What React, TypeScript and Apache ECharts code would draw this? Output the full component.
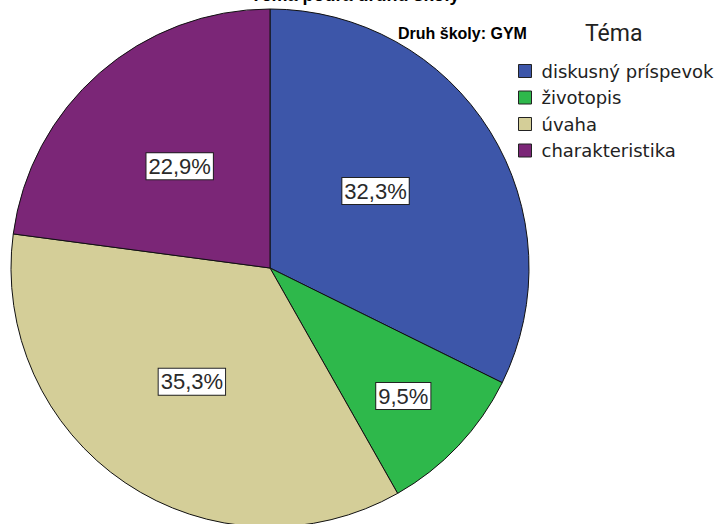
import React, { useEffect, useRef } from "react";
import * as echarts from "echarts";

const categories = ["diskusný príspevok", "životopis", "úvaha", "charakteristika"];
const percentages = [32.3, 9.5, 35.3, 22.9];
const colors = ["#3d56a9", "#2eb84b", "#d4ce98", "#7b2677"];
const labelShift = [
  [-7, -7],
  [37, 37],
  [-4, 4],
  [-3, -2],
];
const titleText = "Téma podľa druhu školy";
const subTitleText = "Druh školy: GYM";
const legendTitle = "Téma";

export default function App() {
  const ref = useRef<HTMLDivElement>(null);
  useEffect(() => {
    document.body.style.margin = "0";
    const chart = echarts.init(ref.current!, null, { renderer: "svg" });
    chart.setOption({
      animation: false,
      backgroundColor: "#ffffff",
      graphic: [
        {
          type: "text",
          x: 355,
          y: -14,
          style: {
            text: titleText,
            font: "bold 18px 'Liberation Sans'",
            fill: "#000",
            textAlign: "center",
            textVerticalAlign: "top",
          },
        },
        {
          type: "text",
          x: 398,
          y: 25,
          style: {
            text: subTitleText,
            font: "bold 16px 'Liberation Sans'",
            fill: "#000",
          },
        },
        {
          type: "text",
          x: 585,
          y: 22,
          style: {
            text: legendTitle,
            font: "23px Roboto",
            fill: "#222",
          },
        },
      ],
      legend: {
        orient: "vertical",
        left: 513,
        top: 57,
        icon: "rect",
        itemWidth: 13,
        itemHeight: 13,
        itemGap: 8.5,
        data: categories,
        itemStyle: { borderColor: "#222", borderWidth: 1 },
        textStyle: { fontFamily: "DejaVu Sans", fontSize: 18, color: "#222", padding: [0, 0, 0, 5] },
      },
      series: [
        {
          type: "pie",
          center: [270, 268],
          radius: 259,
          startAngle: 90,
          clockwise: true,
          avoidLabelOverlap: false,
          itemStyle: { borderColor: "#111", borderWidth: 1 },
          label: {
            show: true,
            position: "inside",
            formatter: (p: any) => p.value.toFixed(1).replace(".", ",") + "%",
            fontFamily: "Liberation Sans",
            fontSize: 22,
            color: "#2a2a2a",
            backgroundColor: "#ffffff",
            borderColor: "#222",
            borderWidth: 1,
            padding: [3, 2, 1, 2],
          },
          labelLayout: (params: any) => ({
            dx: labelShift[params.dataIndex][0],
            dy: labelShift[params.dataIndex][1],
          }),
          emphasis: { disabled: true },
          data: categories.map((name, i) => ({
            name,
            value: percentages[i],
            itemStyle: { color: colors[i] },
          })),
        },
      ],
    });
    return () => chart.dispose();
  }, []);
  return <div ref={ref} style={{ width: 714, height: 524 }} />;
}
